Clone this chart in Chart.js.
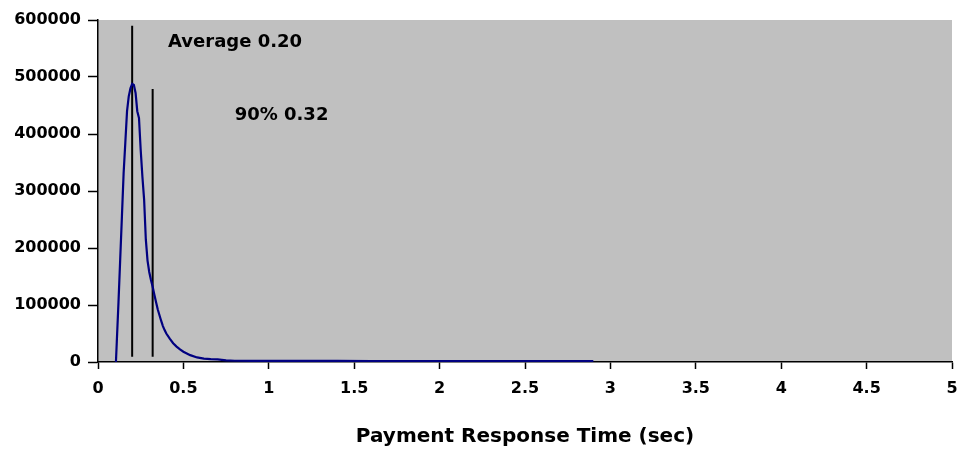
<!DOCTYPE html>
<html>
<head>
<meta charset="utf-8">
<script src="https://cdn.jsdelivr.net/npm/chart.js@4"></script>
<style>
  html, body { margin: 0; padding: 0; background: #ffffff; }
  #wrap { width: 962px; height: 454px; }
</style>
</head>
<body>
<div id="wrap"><canvas id="c" width="962" height="454"></canvas></div>
<script>
// Response time (sec) and number of payments
const times = [0.105, 0.11, 0.12, 0.13, 0.14, 0.15, 0.16, 0.17, 0.18, 0.19, 0.20, 0.21, 0.22, 0.23, 0.24, 0.25,
  0.26, 0.27, 0.28, 0.29, 0.30, 0.31, 0.32, 0.33, 0.34, 0.35, 0.36, 0.37, 0.38, 0.39, 0.40, 0.42, 0.44, 0.46,
  0.48, 0.50, 0.54, 0.58, 0.62, 0.66, 0.70, 0.75, 0.80, 0.90, 1.00, 1.20, 1.40, 1.60, 1.80, 2.00, 2.20, 2.40,
  2.60, 2.80, 2.90];
const counts = [0, 35000, 105000, 180000, 255000, 331000, 385000, 440000, 466000, 480000, 488000, 486000, 472000,
  440000, 428000, 372000, 325000, 285000, 215000, 178000, 158000, 144000, 132000, 118000, 105000, 92000, 82000,
  72000, 63000, 56000, 50000, 41000, 33000, 27000, 22000, 18000, 12000, 8000, 6000, 5000, 4500, 3000, 2200, 2000,
  1900, 1800, 1800, 1700, 1700, 1700, 1600, 1600, 1600, 1600, 1600];

// Marker lines: statistic, value, and vertical extent (counts)
const markerNames = ["Average", "90%"];
const markerValues = [0.20, 0.32];
const markerLow = [9000, 9000];
const markerHigh = [590000, 479000];

// Axis ticks
const xTicks = [0, 0.5, 1, 1.5, 2, 2.5, 3, 3.5, 4, 4.5, 5];
const yTicks = [0, 100000, 200000, 300000, 400000, 500000, 600000];

const FONT = "'DejaVu Sans', sans-serif";

const curve = times.map((t, i) => ({ x: t, y: counts[i] }));
const markerSets = markerValues.map((v, i) => ({
  data: [{ x: v, y: markerLow[i] }, { x: v, y: markerHigh[i] }],
  borderColor: '#000000', borderWidth: 2, pointRadius: 0, showLine: true, fill: false
}));

const bgPlugin = {
  id: 'plotBg',
  beforeDraw(chart) {
    const { ctx, chartArea: a } = chart;
    ctx.save();
    ctx.fillStyle = '#C0C0C0';
    ctx.fillRect(a.left, a.top, a.right - a.left, a.bottom - a.top);
    ctx.restore();
  }
};

// label anchors (data coordinates) for the marker texts
const labelAnchors = [{ x: 0.41, y: 560000 }, { x: 0.80, y: 433000 }];
const labelPlugin = {
  id: 'markerLabels',
  afterDatasetsDraw(chart) {
    const { ctx, scales } = chart;
    ctx.save();
    ctx.font = "bold 18px " + FONT;
    ctx.fillStyle = '#000000';
    ctx.textAlign = 'left';
    ctx.textBaseline = 'middle';
    markerNames.forEach((n, i) => {
      const px = scales.x.getPixelForValue(labelAnchors[i].x);
      const py = scales.y.getPixelForValue(labelAnchors[i].y);
      ctx.fillText(n + ' ' + markerValues[i].toFixed(2), px, py);
    });
    ctx.restore();
  }
};

new Chart(document.getElementById('c'), {
  type: 'scatter',
  data: {
    datasets: [
      { data: curve, borderColor: '#000080', borderWidth: 2.2, pointRadius: 0, showLine: true, fill: false, tension: 0 },
      ...markerSets
    ]
  },
  options: {
    responsive: false,
    animation: false,
    layout: { padding: { top: 20, right: 10, left: 0, bottom: 0 } },
    plugins: { legend: { display: false }, tooltip: { enabled: false } },
    scales: {
      x: {
        type: 'linear', min: 0, max: 5,
        afterBuildTicks(s) { s.ticks = xTicks.map(v => ({ value: v })); },
        afterFit(s) { s.height = 92; s.paddingRight = 0; s.paddingLeft = 0; },
        grid: { drawOnChartArea: false, drawTicks: true, tickLength: 7, tickColor: '#000', tickWidth: 1.5 },
        border: { color: '#000', width: 1.5 },
        ticks: { color: '#000', font: { family: FONT, size: 16, weight: 'bold' }, padding: 10, maxRotation: 0,
          callback: v => String(v) },
        title: { display: true, text: 'Payment Response Time (sec)', color: '#000',
          font: { family: FONT, size: 20, weight: 'bold' }, padding: { top: 0, bottom: 5 } }
      },
      y: {
        type: 'linear', min: 0, max: 600000,
        afterBuildTicks(s) { s.ticks = yTicks.map(v => ({ value: v })); },
        afterFit(s) { s.width = 98; s.paddingTop = 0; s.paddingBottom = 0; },
        grid: { drawOnChartArea: false, drawTicks: true, tickLength: 10, tickColor: '#000', tickWidth: 1.5 },
        border: { color: '#000', width: 1.5 },
        ticks: { color: '#000', font: { family: FONT, size: 16, weight: 'bold' }, padding: 7,
          callback: v => String(v) }
      }
    }
  },
  plugins: [bgPlugin, labelPlugin]
});
</script>
</body>
</html>
